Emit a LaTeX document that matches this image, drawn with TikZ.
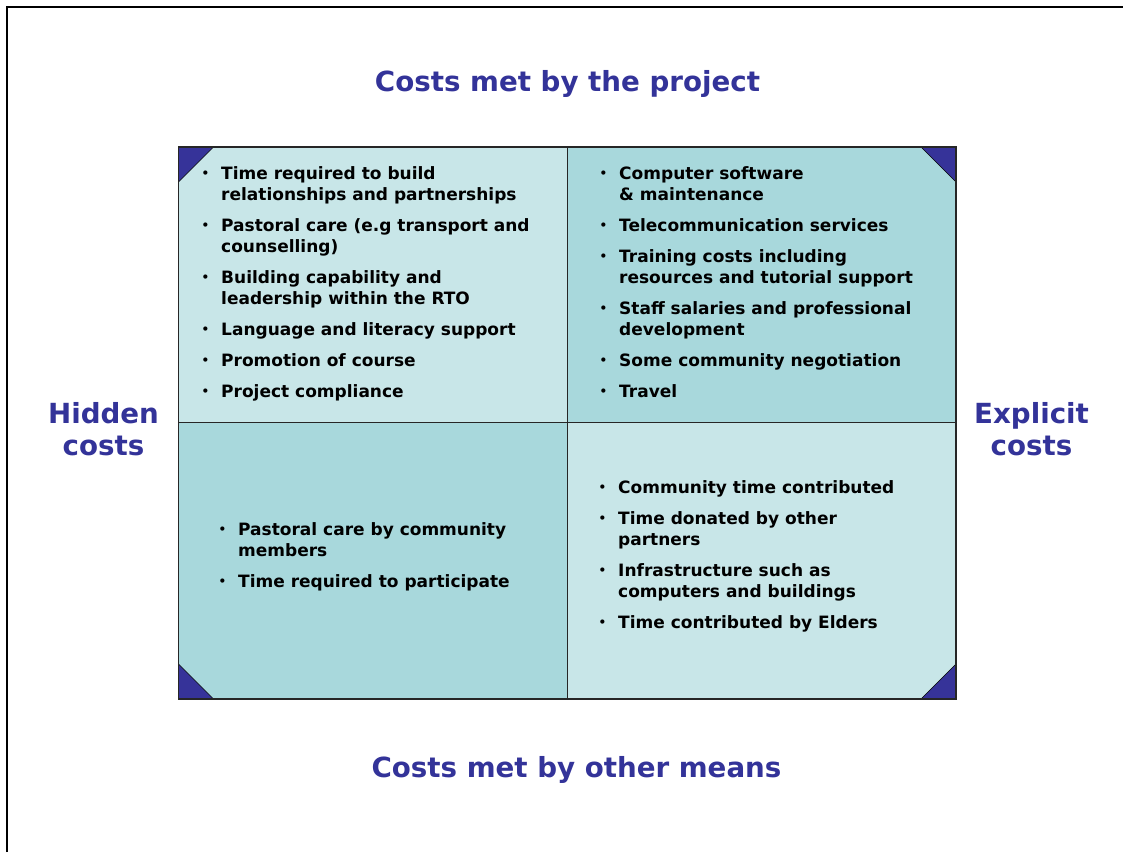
\documentclass[tikz,border=0pt]{standalone}
\usepackage{fontspec}
\setmainfont{DejaVu Sans}
\definecolor{celllight}{HTML}{C8E6E8}
\definecolor{celldark}{HTML}{A8D8DC}
\definecolor{cornerblue}{HTML}{363399}
\definecolor{titleblue}{HTML}{333399}
\newcommand\smallbullet{\raisebox{1.6pt}{\fontsize{12}{12}\selectfont\textbullet}}
\newcommand\bitem[1]{\noindent\hangindent=16pt\hangafter=1\makebox[16pt][l]{\hspace*{-3.5pt}\smallbullet}#1\par}
\newcommand\bgap{\vskip10pt}
\newcommand\cellbox[1]{\vtop{\hsize=360pt\parskip=0pt\parindent=0pt #1}}
\newcommand\twoline[2]{\vtop{\hbox to 160pt{\hss #1\hss}\hbox to 160pt{\hss #2\hss}}}
\tikzset{
  celltext/.style={anchor=base west, inner sep=0pt, font=\bfseries\fontsize{17}{21}\selectfont, text=black},
  titletext/.style={anchor=base, inner sep=0pt, font=\bfseries\fontsize{27.7}{32}\selectfont, text=titleblue},
  corner/.style={fill=cornerblue, draw=black, line width=0.6pt},
  gridline/.style={draw=black!85, line width=1.7pt},
}
\begin{document}
\begin{tikzpicture}[x=1pt,y=1pt]
\useasboundingbox (0,0) rectangle (1123,852);
\fill[white] (0,0) rectangle (1123,852);
% frame (left and top edges visible)
\draw[line width=2pt, black] (6.5,0) -- (6.5,844.5) -- (1123,844.5);
% cells
\coordinate (tlc) at (178.5,705);
\coordinate (mc) at (567.5,429.5);
\coordinate (brc) at (956,153);
\fill[celllight] (178.5,705) rectangle (567.5,429.5);
\fill[celldark] (567.5,705) rectangle (956,429.5);
\fill[celldark] (178.5,429.5) rectangle (567.5,153);
\fill[celllight] (567.5,429.5) rectangle (956,153);
% corner triangles
\draw[corner] (178.5,705) -- (213.5,705) -- (178.5,670) -- cycle;
\draw[corner] (956,705) -- (921,705) -- (956,670) -- cycle;
\draw[corner] (178.5,153) -- (213.5,153) -- (178.5,188) -- cycle;
\draw[corner] (956,153) -- (921,153) -- (956,188) -- cycle;
% grid lines
\draw[gridline] (tlc) rectangle (brc);
\draw[gridline] (mc |- tlc) -- (mc |- brc);
\draw[gridline] (mc -| tlc) -- (mc -| brc);
% titles
\node[titletext] (top) at (567.5,760) {Costs met by the project};
\node[titletext] (bottom) at (576.5,75) {Costs met by other means};
\node[titletext] (hidden) at (103.5,428.7) {\twoline{Hidden}{costs}};
\node[titletext] (explicit) at (1031.5,428.7) {\twoline{Explicit}{costs}};
% cell texts
\node[celltext] (tltext) at (205,672.5) {\cellbox{%
\bitem{Time required to build\newline relationships and partnerships}\bgap
\bitem{Pastoral care (e.g transport and\newline counselling)}\bgap
\bitem{Building capability and\newline leadership within the RTO}\bgap
\bitem{Language and literacy support}\bgap
\bitem{Promotion of course}\bgap
\bitem{Project compliance}}};
\node[celltext] (trtext) at (603,672.5) {\cellbox{%
\bitem{Computer software\newline \&\ maintenance}\bgap
\bitem{Telecommunication services}\bgap
\bitem{Training costs including\newline resources and tutorial support}\bgap
\bitem{Staff salaries and professional\newline development}\bgap
\bitem{Some community negotiation}\bgap
\bitem{Travel}}};
\node[celltext] (bltext) at (222,317) {\cellbox{%
\bitem{Pastoral care by community\newline members}\bgap
\bitem{Time required to participate}}};
\node[celltext] (brtext) at (602,358.5) {\cellbox{%
\bitem{Community time contributed}\bgap
\bitem{Time donated by other\newline partners}\bgap
\bitem{Infrastructure such as\newline computers and buildings}\bgap
\bitem{Time contributed by Elders}}};
\end{tikzpicture}
\end{document}
